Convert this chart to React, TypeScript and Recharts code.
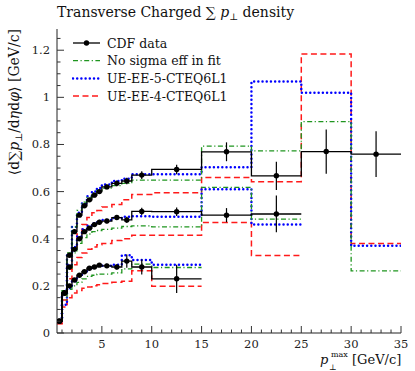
import { ComposedChart, Line, Scatter, ErrorBar, XAxis, YAxis, Legend } from 'recharts';

const W = 415;
const H = 371;
const FONT = '"DejaVu Serif", serif';

// bin edges in p_T^max [GeV/c]
const binEdges = [0.5, 1, 1.5, 2, 2.5, 3, 3.5, 4, 4.5, 5, 6, 7, 8, 10, 15, 20, 25, 30, 35];

const xMajor = [5, 10, 15, 20, 25, 30, 35];
const yMajor = [0, 0.2, 0.4, 0.6, 0.8, 1, 1.2];
const xTicks = Array.from({ length: 35 }, (_, i) => i + 1);
const yTicks = Array.from({ length: 26 }, (_, i) => Math.round(i * 5) / 100);

// upper set (to 35 GeV/c)
const cdfTop = [0.05, 0.17, 0.33, 0.43, 0.5, 0.54, 0.565, 0.585, 0.6, 0.62, 0.635, 0.645, 0.67, 0.694, 0.769, 0.667, 0.77, 0.759];
const cdfTopErr = [0.004, 0.006, 0.008, 0.008, 0.008, 0.008, 0.008, 0.009, 0.009, 0.01, 0.012, 0.014, 0.016, 0.02, 0.04, 0.06, 0.094, 0.097];
const noSigmaTop = [0.05, 0.18, 0.34, 0.45, 0.52, 0.555, 0.575, 0.595, 0.605, 0.615, 0.625, 0.635, 0.649, 0.649, 0.793, 0.773, 0.897, 0.264];
const ee5Top = [0.05, 0.17, 0.33, 0.45, 0.51, 0.55, 0.58, 0.6, 0.615, 0.63, 0.645, 0.655, 0.674, 0.674, 0.703, 1.067, 1.02, 0.37];
const ee4Top = [0.04, 0.14, 0.27, 0.36, 0.42, 0.46, 0.49, 0.51, 0.52, 0.535, 0.545, 0.565, 0.588, 0.595, 0.66, 0.642, 1.184, 0.38];

// middle set (to 25 GeV/c)
const cdfMid = [0.05, 0.17, 0.28, 0.355, 0.4, 0.43, 0.445, 0.46, 0.47, 0.475, 0.49, 0.48, 0.516, 0.515, 0.5, 0.505];
const cdfMidErr = [0.004, 0.006, 0.007, 0.007, 0.007, 0.007, 0.008, 0.008, 0.008, 0.009, 0.011, 0.013, 0.015, 0.018, 0.03, 0.078];
const noSigmaMid = [0.05, 0.17, 0.27, 0.34, 0.38, 0.405, 0.42, 0.43, 0.435, 0.44, 0.445, 0.452, 0.455, 0.45, 0.618, 0.483];
const ee5Mid = [0.05, 0.17, 0.29, 0.365, 0.41, 0.44, 0.455, 0.465, 0.475, 0.48, 0.488, 0.493, 0.495, 0.493, 0.61, 0.46];
const ee4Mid = [0.04, 0.12, 0.23, 0.29, 0.32, 0.34, 0.355, 0.365, 0.375, 0.38, 0.392, 0.4, 0.415, 0.415, 0.469, 0.329];

// lower set (to 15 GeV/c)
const cdfLow = [0.05, 0.17, 0.2, 0.225, 0.245, 0.26, 0.275, 0.28, 0.288, 0.285, 0.28, 0.305, 0.28, 0.23];
const cdfLowErr = [0.004, 0.006, 0.006, 0.006, 0.006, 0.007, 0.007, 0.007, 0.008, 0.009, 0.011, 0.028, 0.032, 0.06];
const noSigmaLow = [0.05, 0.14, 0.185, 0.2, 0.215, 0.23, 0.24, 0.245, 0.25, 0.25, 0.255, 0.272, 0.292, 0.278];
const ee5Low = [0.05, 0.12, 0.19, 0.22, 0.245, 0.26, 0.27, 0.28, 0.285, 0.285, 0.29, 0.33, 0.31, 0.29];
const ee4Low = [0.04, 0.11, 0.15, 0.17, 0.18, 0.19, 0.195, 0.2, 0.205, 0.21, 0.215, 0.22, 0.264, 0.198];

const styles: Record<string, any> = {
  cdf: { stroke: '#000', strokeWidth: 1.3 },
  noSigma: { stroke: '#1f951f', strokeWidth: 1.3, strokeDasharray: '5 2.5 1.2 2.5' },
  ee5: { stroke: '#0000ff', strokeWidth: 2.5, strokeDasharray: '0 4.2', strokeLinecap: 'round' },
  ee4: { stroke: '#ff1a1a', strokeWidth: 1.5, strokeDasharray: '6 3.5' },
};

const legendItems = [
  { name: 'CDF data', key: 'cdf', dot: true },
  { name: 'No sigma eff in fit', key: 'noSigma' },
  { name: 'UE-EE-5-CTEQ6L1', key: 'ee5' },
  { name: 'UE-EE-4-CTEQ6L1', key: 'ee4' },
];

// histogram -> step points (left edges + closing right edge)
const steps = (vals: number[]) => [
  ...vals.map((v, i) => ({ x: binEdges[i], y: v })),
  { x: binEdges[vals.length], y: vals[vals.length - 1] },
];
const points = (vals: number[], errs: number[]) =>
  vals.map((v, i) => ({ x: (binEdges[i] + binEdges[i + 1]) / 2, y: v, err: errs[i] }));

const mcSeries = [
  { id: 'ee4Top', vals: ee4Top, style: 'ee4' },
  { id: 'ee4Mid', vals: ee4Mid, style: 'ee4' },
  { id: 'ee4Low', vals: ee4Low, style: 'ee4' },
  { id: 'ee5Top', vals: ee5Top, style: 'ee5' },
  { id: 'ee5Mid', vals: ee5Mid, style: 'ee5' },
  { id: 'ee5Low', vals: ee5Low, style: 'ee5' },
  { id: 'nsTop', vals: noSigmaTop, style: 'noSigma' },
  { id: 'nsMid', vals: noSigmaMid, style: 'noSigma' },
  { id: 'nsLow', vals: noSigmaLow, style: 'noSigma' },
];
const dataSeries = [
  { id: 'cdfTop', vals: cdfTop, errs: cdfTopErr },
  { id: 'cdfMid', vals: cdfMid, errs: cdfMidErr },
  { id: 'cdfLow', vals: cdfLow, errs: cdfLowErr },
];

const tickStroke = '#333';
const tickFont = 11.5;

const BottomTick = (p: any) => {
  const major = xMajor.includes(p.payload.value);
  return (
    <g>
      <line x1={p.x} x2={p.x} y1={p.y} y2={p.y - (major ? 7 : 3.5)} stroke={tickStroke} />
      {major && (
        <text x={p.x} y={p.y + 15} textAnchor="middle" fontSize={tickFont} fill="#222" fontFamily={FONT}>
          {p.payload.value}
        </text>
      )}
    </g>
  );
};
const TopTick = (p: any) => {
  const major = xMajor.includes(p.payload.value);
  return <line x1={p.x} x2={p.x} y1={p.y} y2={p.y + (major ? 7 : 3.5)} stroke={tickStroke} />;
};
const isYMajor = (v: number) => yMajor.some((m) => Math.abs(m - v) < 1e-6);
const LeftTick = (p: any) => {
  const v = p.payload.value;
  const major = isYMajor(v);
  return (
    <g>
      <line x1={p.x} x2={p.x + (major ? 7 : 3.5)} y1={p.y} y2={p.y} stroke={tickStroke} />
      {major && (
        <text x={p.x - 7} y={p.y + 4} textAnchor="end" fontSize={tickFont} fill="#222" fontFamily={FONT}>
          {v === 0 || v === 1 ? String(v) : v.toFixed(1)}
        </text>
      )}
    </g>
  );
};
const RightTick = (p: any) => {
  const major = isYMajor(p.payload.value);
  return <line x1={p.x} x2={p.x - (major ? 7 : 3.5)} y1={p.y} y2={p.y} stroke={tickStroke} />;
};

const LegendBox = () => (
  <svg width={160} height={80} style={{ display: 'block' }}>
    {legendItems.map((it, i) => (
      <g key={it.key} transform={`translate(0, ${8 + i * 17.7})`}>
        <line x1={1} x2={28} y1={0} y2={0} {...styles[it.key]} />
        {it.dot && <circle cx={14.5} cy={0} r={2.7} fill="#000" />}
        <text x={35} y={4.5} fontSize={12.5} fontFamily={FONT} fill="#111">
          {it.name}
        </text>
      </g>
    ))}
  </svg>
);

export default function App() {
  return (
    <div style={{ position: 'absolute', left: 0, top: 0, width: W, height: H, background: '#fff' }}>
      <ComposedChart width={W} height={H} margin={{ top: 29, right: 14, bottom: 0, left: 0 }}>
        <XAxis
          xAxisId="b"
          dataKey="x"
          type="number"
          domain={[0.5, 35]}
          allowDataOverflow
          ticks={xTicks}
          interval={0}
          height={38}
          tickSize={0}
          tickMargin={0}
          tickLine={false}
          tick={<BottomTick />}
          axisLine={{ stroke: '#222' }}
        />
        <XAxis
          xAxisId="t"
          orientation="top"
          dataKey="x"
          type="number"
          domain={[0.5, 35]}
          allowDataOverflow
          ticks={xTicks}
          interval={0}
          height={0}
          tickSize={0}
          tickMargin={0}
          tickLine={false}
          tick={<TopTick />}
          axisLine={{ stroke: '#222' }}
        />
        <YAxis
          yAxisId="l"
          type="number"
          domain={[0, 1.29]}
          allowDataOverflow
          ticks={yTicks}
          interval={0}
          width={57}
          tickSize={0}
          tickMargin={0}
          tickLine={false}
          tick={<LeftTick />}
          axisLine={{ stroke: '#222' }}
        />
        <YAxis
          yAxisId="r"
          orientation="right"
          type="number"
          domain={[0, 1.29]}
          allowDataOverflow
          ticks={yTicks}
          interval={0}
          width={0}
          tickSize={0}
          tickMargin={0}
          tickLine={false}
          tick={<RightTick />}
          axisLine={{ stroke: '#222' }}
        />
        <Legend
          layout="vertical"
          align="center"
          verticalAlign="middle"
          content={() => <LegendBox />}
          wrapperStyle={{ left: 72, top: 35, width: 160 }}
        />
        {mcSeries.map((s) => (
          <Line
            key={s.id}
            xAxisId="b"
            yAxisId="l"
            data={steps(s.vals)}
            dataKey="y"
            type="stepAfter"
            dot={false}
            activeDot={false}
            legendType="none"
            isAnimationActive={false}
            {...styles[s.style]}
          />
        ))}
        {dataSeries.map((s) => (
          <Line
            key={s.id + 'h'}
            xAxisId="b"
            yAxisId="l"
            data={steps(s.vals)}
            dataKey="y"
            type="stepAfter"
            dot={false}
            activeDot={false}
            legendType="none"
            isAnimationActive={false}
            {...styles.cdf}
          />
        ))}
        {dataSeries.map((s) => (
          <Scatter
            key={s.id + 'p'}
            xAxisId="b"
            yAxisId="l"
            data={points(s.vals, s.errs)}
            dataKey="y"
            legendType="none"
            isAnimationActive={false}
            shape={(p: any) => <circle cx={p.cx} cy={p.cy} r={2.7} fill="#000" />}
          >
            <ErrorBar dataKey="err" direction="y" width={0} stroke="#000" strokeWidth={1.2} />
          </Scatter>
        ))}
      </ComposedChart>
      <svg
        width={W}
        height={H}
        style={{ position: 'absolute', left: 0, top: 0, pointerEvents: 'none' }}
        fontFamily={FONT}
        fill="#111"
      >
        <text x={57} y={17} fontSize={14}>
          Transverse Charged ∑ <tspan fontStyle="italic">p</tspan>
          <tspan fontSize={9.5} dy={3}>⊥</tspan>
          <tspan dy={-3}> density</tspan>
        </text>
        <text transform="translate(19,29) rotate(-90)" textAnchor="end" fontSize={14}>
          ⟨d∑<tspan fontStyle="italic">p</tspan>
          <tspan fontSize={9.5} dy={3}>⊥</tspan>
          <tspan dy={-3}>/d</tspan>
          <tspan fontStyle="italic">η</tspan>d<tspan fontStyle="italic">φ</tspan>⟩ [GeV/c]
        </text>
        <text x={320} y={364} fontSize={13}>
          <tspan fontStyle="italic">p</tspan>
          <tspan fontSize={8} x={329} y={369.5}>⊥</tspan>
          <tspan fontSize={8} x={331} y={357}>max</tspan>
          <tspan y={364}> [GeV/c]</tspan>
        </text>
      </svg>
    </div>
  );
}
